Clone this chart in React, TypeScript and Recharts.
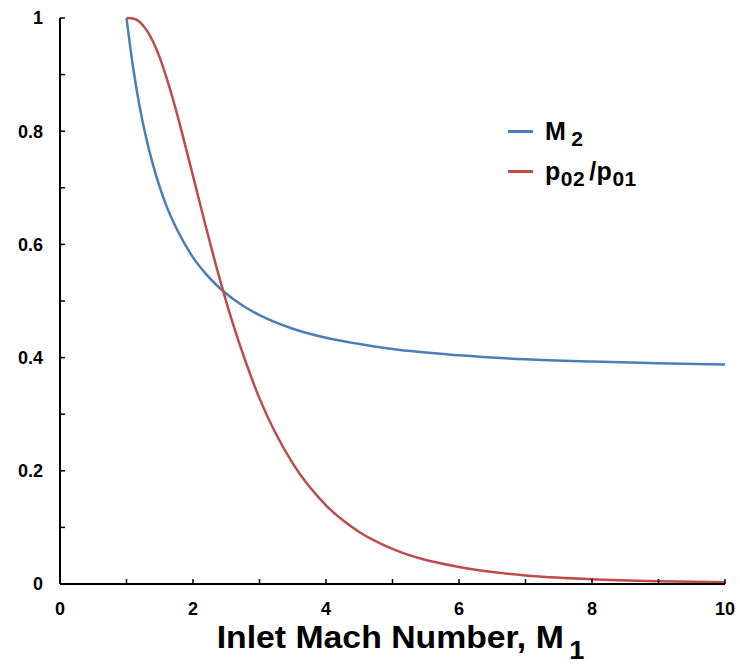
import React from "react";
import { LineChart, Line, XAxis, YAxis, Legend } from "recharts";

const machNumbers = [1, 1.1, 1.2, 1.3, 1.4, 1.5, 1.6, 1.7, 1.8, 1.9, 2.0, 2.2, 2.4, 2.6, 2.8, 3.0, 3.5, 4, 4.5, 5, 6, 7, 8, 9, 10];
const m2Values = [1.0, 0.912, 0.842, 0.786, 0.74, 0.701, 0.668, 0.641, 0.617, 0.596, 0.577, 0.547, 0.523, 0.504, 0.488, 0.475, 0.451, 0.435, 0.424, 0.415, 0.404, 0.397, 0.393, 0.39, 0.388];
const p0RatioValues = [1.0, 0.999, 0.993, 0.979, 0.958, 0.93, 0.895, 0.856, 0.813, 0.767, 0.721, 0.628, 0.54, 0.46, 0.39, 0.328, 0.213, 0.139, 0.092, 0.062, 0.03, 0.015, 0.0085, 0.005, 0.003];

const xTicks = [0, 1, 2, 3, 4, 5, 6, 7, 8, 9, 10];
const xLabelTicks = [0, 2, 4, 6, 8, 10];
const yTicks = [0, 0.1, 0.2, 0.3, 0.4, 0.5, 0.6, 0.7, 0.8, 0.9, 1];
const yLabelTicks = ["0", "0.2", "0.4", "0.6", "0.8", "1"];

const data = machNumbers.map((m, i) => ({ m, m2: m2Values[i], p0: p0RatioValues[i] }));

const FONT = "'Liberation Sans', Arial, sans-serif";
const BLUE = "#4a7ebb";
const RED = "#be4b48";

const XTick = (props: any) => {
  const { x, y, payload } = props;
  if (!xLabelTicks.includes(payload.value)) return null;
  return (
    <text x={x} y={y} dy="0.71em" textAnchor="middle" fontFamily={FONT} fontWeight="bold" fontSize={18} fill="#000">
      {String(payload.value)}
    </text>
  );
};

const YTick = (props: any) => {
  const { x, y, payload } = props;
  const label = String(Math.round(payload.value * 10) / 10);
  if (!yLabelTicks.includes(label)) return null;
  return (
    <text x={x} y={y} dy="0.355em" textAnchor="end" fontFamily={FONT} fontWeight="bold" fontSize={18} fill="#000">
      {label}
    </text>
  );
};

const XTitle = (props: any) => {
  const { viewBox } = props;
  const cx = viewBox.x + viewBox.width / 2 + 8;
  const y = viewBox.y + 64;
  return (
    <text transform={`translate(${cx},${y}) scale(1.09,1)`} x={0} y={0} textAnchor="middle" fontFamily={FONT} fontWeight="bold" fontSize={31} fill="#000">
      Inlet Mach Number, M
      <tspan dx={5} dy={11} fontSize={25}>1</tspan>
    </text>
  );
};

const LegendContent = () => {
  const row: React.CSSProperties = { display: "flex", alignItems: "center", height: 40 };
  const swatch = (c: string): React.CSSProperties => ({ width: 25, height: 3, background: c, marginRight: 12 });
  const txt: React.CSSProperties = { fontFamily: FONT, fontWeight: "bold", fontSize: 25, color: "#000", whiteSpace: "nowrap", letterSpacing: 0.5 };
  const sub: React.CSSProperties = { fontSize: 21, position: "relative", top: 6 };
  return (
    <div>
      <div style={row}>
        <div style={swatch(BLUE)} />
        <span style={txt}>M<span style={{ ...sub, marginLeft: 5 }}>2</span></span>
      </div>
      <div style={row}>
        <div style={swatch(RED)} />
        <span style={txt}>p<span style={sub}>02</span><span style={{ marginLeft: 4 }}>/</span>p<span style={sub}>01</span></span>
      </div>
    </div>
  );
};

export default function App() {
  return (
    <div style={{ position: "absolute", left: 0, top: 0, width: 740, height: 666, background: "#fff" }}>
      <LineChart width={740} height={666} data={data} margin={{ top: 18, right: 15, bottom: 0, left: 0 }}>
        <XAxis
          dataKey="m"
          type="number"
          domain={[0, 10]}
          ticks={xTicks}
          interval={0}
          height={82}
          axisLine={{ stroke: "#000", strokeWidth: 2 }}
          tickLine={{ stroke: "#000", strokeWidth: 1.5 }}
          tickSize={-5}
          tickMargin={23}
          tick={<XTick />}
          label={<XTitle />}
        />
        <XAxis xAxisId="top" orientation="top" type="number" domain={[0, 10]} height={0} tick={false} tickLine={false} axisLine={{ stroke: "#000", strokeWidth: 1.5 }} />
        <YAxis
          type="number"
          domain={[0, 1]}
          ticks={yTicks}
          interval={0}
          width={60}
          axisLine={{ stroke: "#000", strokeWidth: 2 }}
          tickLine={{ stroke: "#000", strokeWidth: 1.5 }}
          tickSize={-5}
          tickMargin={22}
          tick={<YTick />}
        />
        <YAxis yAxisId="right" orientation="right" type="number" domain={[0, 1]} width={0} tick={false} tickLine={false} axisLine={{ stroke: "#000", strokeWidth: 1.5 }} />
        <Legend
          content={<LegendContent />}
          layout="vertical"
          verticalAlign="middle"
          align="center"
          wrapperStyle={{ left: 508, top: 111, width: 200 }}
        />
        <Line type="monotone" dataKey="m2" name="M2" stroke={BLUE} strokeWidth={2.5} dot={false} isAnimationActive={false} />
        <Line type="monotone" dataKey="p0" name="p02/p01" stroke={RED} strokeWidth={2.5} dot={false} isAnimationActive={false} />
      </LineChart>
    </div>
  );
}
